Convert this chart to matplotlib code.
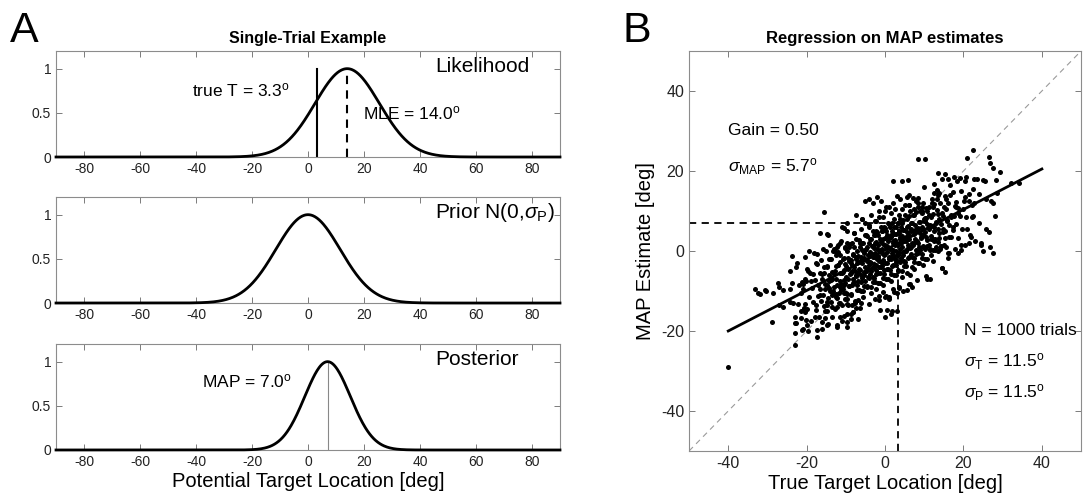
import numpy as np
import matplotlib
matplotlib.use("Agg")
import matplotlib.pyplot as plt

plt.rcParams['font.family'] = ['Liberation Sans', 'DejaVu Sans']
plt.rcParams['mathtext.fontset'] = 'custom'
plt.rcParams['mathtext.rm'] = 'Liberation Sans'
plt.rcParams['mathtext.it'] = 'Liberation Sans:italic'
plt.rcParams['mathtext.bf'] = 'Liberation Sans:bold'
plt.rcParams['axes.unicode_minus'] = False

# --- panel A: single trial ---
true_T = 3.3
mle = 14.0
map_est = 7.0
sigma_T = 11.5
sigma_P = 11.5
prior_mean = 0.0
sigma_post = 8.13
a_xticks = [-80, -60, -40, -20, 0, 20, 40, 60, 80]
a_yticks = [0, 0.5, 1]

# --- panel B: regression on MAP estimates (true location, MAP estimate) ---
core_trials = [
    (-22.8, -17.9), (-22.3, -13.3), (-21.5, -10.6), (-21.1, -7.8), (-22.6, -3.9),
    (-19.8, -18.4), (-20.6, -14.6), (-19.3, -11.6), (-20.9, -9.6), (-20.1, -7.5), (-19.6, -5.1), (-20.4, -1.4),
    (-18.8, -17.4), (-17.7, -14.7), (-18.3, -12.8), (-17.2, -11.3), (-18.6, -9.3), (-17.9, -7.3), (-18.4, -5.8),
    (-17.4, -3.2), (-18.1, -0.4),
    (-16.8, -16.4), (-15.4, -14.9), (-16.3, -12.6), (-15.9, -11.0), (-16.7, -9.6), (-15.2, -8.3), (-16.1, -6.9),
    (-16.6, -5.5), (-15.6, -4.0), (-16.4, -2.2), (-15.8, 0.6),
    (-14.5, -18.2), (-13.6, -13.9), (-14.8, -12.7), (-13.3, -10.8), (-14.2, -9.3), (-14.9, -8.6), (-13.8, -7.3),
    (-14.4, -5.9), (-13.5, -5.3), (-14.7, -3.8), (-14.1, -2.1), (-13.4, 0.1), (-14.6, 3.9),
    (-12.7, -14.4), (-11.4, -12.9), (-12.2, -11.7), (-11.8, -10.6), (-12.9, -9.0), (-11.3, -8.3), (-12.4, -6.9),
    (-11.6, -5.6), (-12.8, -4.9), (-12.1, -3.5), (-11.5, -2.8), (-12.5, -1.1), (-11.9, -0.2), (-12.3, 1.1), (-11.2, 2.6),
    (-10.6, -16.2), (-9.4, -13.4), (-10.2, -11.9), (-9.7, -10.7), (-10.8, -9.6), (-9.2, -8.8), (-10.4, -7.3),
    (-9.9, -6.6), (-10.7, -5.3), (-9.5, -4.6), (-10.1, -3.3), (-9.3, -2.5), (-10.5, -1.8), (-9.8, -0.1),
    (-10.3, 0.8), (-9.6, 2.1), (-10.9, 5.9),
    (-8.3, -15.2), (-7.6, -12.4), (-8.8, -10.9), (-7.2, -9.7), (-8.5, -8.6), (-7.9, -7.8), (-8.1, -7.0),
    (-7.4, -6.3), (-8.7, -5.6), (-7.7, -4.9), (-8.4, -3.6), (-7.1, -2.9), (-8.6, -2.3), (-7.5, -1.5),
    (-8.2, -0.8), (-7.8, 0.9), (-8.9, 1.8), (-7.3, 3.1), (-8.0, 4.6),
    (-6.4, -14.2), (-5.7, -11.4), (-6.2, -9.9), (-5.3, -8.7), (-6.8, -7.6), (-5.9, -6.8), (-6.1, -6.0),
    (-5.5, -5.3), (-6.6, -4.6), (-5.2, -3.9), (-6.3, -2.6), (-5.8, -1.9), (-6.9, -1.3), (-5.4, -0.5),
    (-6.0, 0.2), (-6.5, 1.0), (-5.6, 1.9), (-6.7, 2.8), (-5.1, 4.1), (-6.2, 5.6), (-5.8, 7.9),
    (-4.2, -13.2), (-3.5, -10.4), (-4.7, -8.9), (-3.1, -7.7), (-4.4, -6.6), (-3.8, -5.8), (-4.9, -5.0),
    (-3.3, -4.3), (-4.1, -3.6), (-3.6, -2.9), (-4.6, -2.3), (-3.2, -1.6), (-4.3, -0.9), (-3.9, -0.3),
    (-4.8, 0.5), (-3.4, 1.2), (-4.0, 2.0), (-3.7, 2.9), (-4.5, 3.8), (-3.0, 5.1), (-4.2, 6.6), (-3.6, 8.9),
    (-1.6, -12.2), (-2.4, -9.4), (-1.3, -7.9), (-2.7, -6.7), (-1.9, -5.6), (-2.2, -4.8), (-1.1, -4.0),
    (-2.8, -3.3), (-1.5, -2.6), (-2.1, -1.9), (-1.8, -1.3), (-2.5, -0.6), (-1.2, 0.1), (-2.9, 0.7),
    (-1.7, 1.5), (-2.3, 2.2), (-1.4, 3.0), (-2.6, 3.9), (-2.0, 4.8), (-1.0, 6.1), (-2.2, 7.6), (-1.6, 9.9),
    (0.3, -11.2), (-0.5, -8.4), (0.8, -6.9), (-0.2, -5.7), (0.6, -4.6), (-0.9, -3.8), (0.1, -3.0),
    (-0.6, -2.3), (0.9, -1.6), (-0.3, -0.9), (0.4, -0.3), (-0.8, 0.4), (0.2, 1.1), (-0.4, 1.7),
    (0.7, 2.5), (-0.1, 3.2), (0.5, 4.0), (-0.7, 4.9), (0.0, 5.8), (0.8, 7.1), (-0.5, 8.6), (0.3, 10.9),
    (2.4, -10.2), (1.6, -7.4), (2.8, -5.9), (1.3, -4.7), (2.1, -3.6), (2.7, -2.8), (1.5, -2.0),
    (2.3, -1.3), (1.8, -0.6), (2.9, 0.1), (1.2, 0.7), (2.5, 1.4), (1.9, 2.1), (2.6, 2.7),
    (1.4, 3.5), (2.2, 4.2), (1.7, 5.0), (2.8, 5.9), (1.1, 6.8), (2.4, 8.1), (1.6, 9.6), (2.0, 11.9),
    (3.6, -9.2), (4.4, -6.4), (3.2, -4.9), (4.8, -3.7), (3.9, -2.6), (4.1, -1.8), (3.4, -1.0),
    (4.6, -0.3), (3.7, 0.4), (4.3, 1.1), (3.1, 1.7), (4.9, 2.4), (3.8, 3.1), (4.2, 3.7),
    (3.5, 4.5), (4.7, 5.2), (4.0, 6.0), (3.3, 6.9), (4.5, 7.8), (3.6, 9.1), (4.2, 10.6), (3.9, 12.9),
    (6.3, -8.2), (5.6, -5.4), (6.8, -3.9), (5.2, -2.7), (6.1, -1.6), (6.6, -0.8), (5.4, 0.0),
    (6.4, 0.7), (5.8, 1.4), (6.9, 2.1), (5.3, 3.4), (6.2, 4.1), (5.7, 4.7), (6.5, 5.5),
    (5.9, 6.2), (6.7, 7.0), (5.5, 7.9), (6.0, 8.8), (6.4, 10.1), (5.1, 11.6), (6.2, 13.9),
    (8.2, -7.2), (7.5, -4.4), (8.7, -2.9), (7.3, -1.7), (8.4, -0.6), (7.9, 0.2), (8.6, 1.0),
    (7.1, 1.7), (8.1, 2.4), (7.7, 3.1), (8.9, 4.4), (7.4, 5.1), (8.3, 5.7), (7.6, 6.5),
    (8.8, 7.2), (7.2, 8.9), (8.0, 9.8), (8.5, 11.1), (7.8, 12.6),
    (10.4, -6.2), (9.6, -3.4), (10.8, -1.9), (9.3, -0.7), (10.1, 0.4), (9.8, 1.2), (10.6, 2.7),
    (9.2, 3.4), (10.3, 4.7), (9.5, 5.4), (10.7, 6.7), (9.9, 7.5), (10.2, 8.2), (9.4, 9.9),
    (10.5, 10.8), (9.7, 12.1), (10.0, 15.9),
    (12.3, -2.4), (11.6, -0.9), (12.7, 0.3), (11.2, 1.4), (12.1, 3.0), (11.8, 3.7), (12.5, 5.1),
    (11.4, 6.4), (12.9, 7.1), (11.7, 8.5), (12.2, 9.2), (11.3, 10.9), (12.6, 11.8), (11.9, 13.1), (12.4, 14.6),
    (14.6, -4.2), (13.4, 0.1), (14.2, 1.3), (13.8, 3.2), (14.9, 4.7), (13.5, 5.4), (14.3, 6.7),
    (13.7, 8.1), (14.7, 8.7), (13.2, 10.2), (14.1, 11.9), (13.6, 14.1), (14.4, 17.9),
    (16.2, -0.4), (15.5, 1.1), (16.7, 3.4), (15.3, 5.0), (16.4, 6.4), (15.8, 7.7), (16.9, 9.1),
    (15.6, 10.5), (16.1, 12.0), (15.4, 13.8), (16.5, 16.6),
    (17.8, 0.6), (18.5, 3.3), (17.3, 5.2), (18.2, 6.7), (17.6, 8.7), (18.7, 10.7), (18.0, 12.2),
    (17.4, 14.8), (18.4, 17.6),
    (20.3, 1.6), (19.5, 5.4), (20.7, 8.4), (19.8, 10.4), (20.2, 12.5), (19.4, 14.9), (20.6, 18.6),
    (21.6, 4.1), (22.4, 8.7), (22.1, 11.4), (21.3, 14.2), (22.7, 18.1),
]

mid_trials = [
    (-17.7, -13.6), (-16.6, -11.1), (-17.2, -8.5), (-16.2, -5.7), (-17.5, -3.1),
    (-15.7, -13.7), (-14.6, -11.7), (-15.2, -9.4), (-14.2, -7.5), (-15.5, -5.5), (-14.9, -3.9), (-14.4, -2.1),
    (-13.7, -12.7), (-12.6, -10.7), (-13.2, -9.9), (-12.2, -8.4), (-13.5, -7.1), (-12.9, -5.8), (-12.4, -3.7),
    (-13.9, -2.0), (-12.7, 0.0),
    (-11.7, -13.0), (-10.6, -10.6), (-11.2, -9.7), (-10.2, -8.1), (-11.5, -7.4), (-10.9, -5.5), (-10.4, -4.8),
    (-11.9, -3.5), (-10.7, -1.9), (-11.4, -1.0), (-10.1, 1.0),
    (-9.7, -12.0), (-8.6, -10.7), (-9.2, -8.7), (-8.2, -7.9), (-9.5, -7.1), (-8.9, -5.7), (-8.4, -5.1),
    (-9.9, -3.8), (-8.7, -3.1), (-9.4, -1.7), (-8.1, -0.9), (-9.1, 0.9), (-8.5, 2.0),
    (-7.7, -13.1), (-6.6, -9.7), (-7.2, -8.6), (-6.2, -7.7), (-7.5, -6.1), (-6.9, -5.4), (-6.4, -4.7),
    (-7.9, -4.1), (-6.7, -2.8), (-7.4, -2.1), (-6.1, -1.5), (-7.1, 0.1), (-6.5, 1.9), (-7.8, 4.5),
    (-5.7, -10.0), (-4.6, -8.7), (-5.2, -7.6), (-4.2, -6.7), (-5.5, -5.9), (-4.9, -5.1), (-4.4, -4.4),
    (-5.9, -3.1), (-4.7, -2.5), (-5.4, -1.8), (-4.1, -1.1), (-5.1, 0.3), (-4.5, 1.1), (-5.8, 2.0), (-4.8, 4.0),
    (-3.7, -9.0), (-2.6, -7.7), (-3.2, -6.6), (-2.2, -5.7), (-3.5, -4.9), (-2.9, -4.1), (-2.4, -3.4),
    (-3.9, -2.7), (-2.7, -1.5), (-3.4, -0.8), (-2.1, 0.5), (-3.1, 1.3), (-2.5, 2.1), (-3.8, 3.0),
    (-2.8, 3.9), (-2.3, 5.0),
    (-1.7, -8.0), (-0.6, -6.7), (-1.2, -5.6), (-0.2, -4.7), (-1.5, -3.9), (-0.9, -3.1), (-0.4, -2.4),
    (-1.9, -1.7), (-0.7, -0.5), (-1.4, 0.2), (-0.1, 1.5), (-1.1, 2.3), (-0.5, 3.1), (-1.8, 4.0),
    (-0.8, 4.9), (-0.3, 6.0),
    (0.3, -7.0), (1.4, -5.7), (0.8, -4.6), (1.8, -3.7), (0.5, -2.9), (1.1, -2.1), (1.6, -1.4),
    (0.1, -0.7), (1.3, 0.5), (0.6, 1.2), (1.9, 2.5), (0.9, 3.3), (1.5, 4.1), (0.2, 5.0),
    (1.2, 5.9), (1.7, 7.0),
    (2.3, -6.0), (3.4, -4.7), (2.8, -3.6), (3.8, -2.7), (2.5, -1.9), (3.1, -1.1), (3.6, -0.4),
    (2.1, 0.3), (3.3, 1.5), (2.6, 2.2), (3.9, 3.5), (2.9, 4.3), (3.5, 5.1), (2.2, 6.0),
    (3.2, 6.9), (3.7, 8.0),
    (4.3, -5.0), (5.4, -3.7), (4.8, -2.6), (5.8, -1.7), (4.5, -0.9), (5.1, -0.1), (5.6, 0.6),
    (4.1, 1.9), (5.3, 2.5), (4.6, 3.2), (5.9, 3.9), (4.9, 5.3), (5.5, 6.1), (4.2, 7.0), (5.2, 9.0),
    (6.3, -6.1), (7.4, -2.7), (6.8, -1.6), (7.8, -0.7), (6.5, 0.9), (7.1, 1.6), (7.6, 2.3),
    (6.1, 2.9), (7.3, 4.2), (6.6, 4.9), (7.9, 5.5), (6.9, 7.1), (7.5, 8.9), (6.2, 11.5),
    (8.3, -3.0), (9.4, -1.7), (8.8, 0.3), (9.8, 1.1), (8.5, 1.9), (9.1, 3.3), (9.6, 3.9),
    (8.1, 5.2), (9.3, 5.9), (8.6, 7.3), (9.9, 8.1), (8.9, 9.9), (9.5, 11.0),
    (10.3, -2.0), (11.4, 0.4), (10.8, 1.3), (11.8, 2.9), (10.5, 3.6), (11.1, 5.5), (11.6, 6.2),
    (10.1, 7.5), (11.3, 9.1), (10.6, 10.0), (11.9, 12.0),
    (12.3, 0.3), (13.4, 2.3), (12.8, 3.1), (13.8, 4.6), (12.5, 5.9), (13.1, 7.2), (13.6, 9.3),
    (12.1, 11.0), (13.3, 13.0),
    (14.3, 1.3), (15.4, 3.3), (14.8, 5.6), (15.8, 7.5), (14.5, 9.5), (15.1, 11.1), (15.6, 12.9),
    (16.3, 3.4), (17.4, 5.9), (16.8, 8.5), (17.8, 11.3), (16.5, 13.9),
]

edge_trials = [
    (-40.0, -29.0), (-28.8, -17.7), (-33.2, -9.5), (-32.4, -10.5), (-31.9, -10.8), (-30.4, -10.0),
    (-28.5, -10.4), (-27.2, -8.0), (-27.0, -13.5), (-23.8, -1.2), (-24.2, -5.0), (-24.2, -12.7),
    (-23.7, -8.0), (-23.0, -16.4), (-23.0, -17.9), (-23.0, -20.5), (-21.3, -19.8), (-23.0, -23.5),
    (-20.8, -14.3), (-20.3, -15.2), (-20.1, -17.2), (-21.0, -19.5), (-17.9, -16.4), (-17.4, -19.8),
    (-17.4, -21.4), (-14.9, -18.5), (-14.9, -13.5), (-14.9, -15.0), (-12.3, -18.5), (-12.3, -19.0),
    (-9.8, -17.7), (-9.8, -19.0), (-9.8, -15.8), (-8.1, -15.2), (-7.0, -17.0), (-1.3, -14.8),
    (0.0, -16.4), (1.7, -15.0), (0.9, -11.6), (5.5, -9.8), (6.8, -8.9), (10.6, -7.0), (11.5, -7.0),
    (14.5, -4.3), (15.3, -5.2), (18.7, -0.6), (19.3, 0.3), (19.3, 1.4), (24.9, 0.0), (24.5, 2.0),
    (16.0, -0.5), (16.0, -1.8), (14.0, 0.6),
    (8.5, 23.0), (22.5, 25.2), (21.0, 23.3), (26.4, 23.6), (26.8, 22.0), (27.6, 20.7), (29.4, 19.8),
    (32.0, 17.0), (34.2, 17.0), (28.3, 17.7), (27.6, 12.0), (28.5, 14.5), (28.0, 8.8), (25.0, 17.7),
    (13.5, 19.5), (2.0, 17.5), (4.2, 17.5), (16.0, 18.0), (17.5, 18.5), (19.0, 18.3), (20.5, 17.5),
    (-15.5, 9.8), (-2.1, 13.6), (-4.0, 13.0), (-5.0, 12.6), (3.0, 13.8), (5.5, 13.5), (7.0, 13.2),
    (8.5, 13.3), (-9.8, 7.0), (-10.5, 5.8), (-9.8, 5.0), (-14.0, 1.5), (-16.6, 4.5), (-14.9, 4.2),
    (-19.4, 0.0), (-17.4, -0.7), (10.2, 23.0), (5.9, 17.7), (15.3, 19.2), (23.5, 18.0), (25.5, 17.5),
    (12.5, 16.8), (13.2, 15.3), (13.8, 14.5), (22.5, 15.5), (24.0, 14.2), (25.8, 13.0), (20.5, 13.5),
    (21.5, 12.5), (22.8, 12.0), (18.2, 11.0), (18.5, 9.5), (19.0, 8.8), (22.3, 8.5), (24.0, 7.0),
    (25.7, 5.5), (26.4, 4.8), (21.0, 5.5), (22.0, 3.5), (21.5, 2.0), (24.5, 1.5), (26.8, 1.0),
    (27.5, -0.5), (23.0, 2.5), (12.5, 2.5), (13.0, 1.0), (15.0, 1.5), (11.5, 0.2), (27.0, 12.5),
    (6.0, 11.5), (7.5, 10.5), (8.5, 12.0), (9.5, 9.5), (10.5, 8.3), (-3.0, 12.0), (-1.0, 12.5),
    (1.0, 11.0), (0.0, 10.0), (2.5, 10.5), (-6.0, 8.0), (-5.0, 7.0), (-4.0, 6.0), (-2.5, 7.5),
    (-1.5, 8.5), (-7.5, 9.0), (-12.0, 1.5), (-13.0, 0.5), (-15.0, 0.0), (-11.5, 2.0),
    (-22.5, -3.0), (-20.0, -4.5), (-19.2, -5.5), (-19.0, -7.5), (-21.0, -8.2), (-22.0, -8.5),
    (-20.5, -7.0), (-30.5, -9.7), (-26.0, -9.8), (-24.2, -9.5), (-27.0, -8.9), (-23.5, -13.0),
    (-26.0, -13.9), (-21.5, -15.0), (-21.5, -16.8), (-20.0, -14.5), (-20.5, -13.2), (-19.6, -20.0),
    (-16.0, -17.7), (-16.0, -19.5), (-15.2, -16.8), (-13.5, -16.5), (-11.5, -16.5), (-11.0, -17.5),
    (-8.7, -15.8), (-8.7, -17.0), (-12.3, -14.0), (-11.0, -13.5), (-9.8, -13.2), (-8.5, -13.6),
    (-7.5, -14.3), (-6.2, -13.0), (-7.0, -12.3), (0.5, -14.8), (1.5, -15.8), (3.0, -15.0),
    (-2.5, -12.0), (-1.5, -11.2), (0.0, -11.5), (1.0, -12.0), (-0.5, -10.3), (2.0, -9.6),
    (3.0, -10.4), (4.5, -10.0), (6.0, -8.2), (3.5, -9.0), (-13.5, -11.0), (-12.5, -11.5),
    (-14.0, -10.0), (-11.5, -9.0), (-10.5, -8.5), (-10.0, -10.5),
]

fit_x = [-40, 40]
fit_y = [-20.0, 20.5]
b_ticks = [-40, -20, 0, 20, 40]

SPINE = '#8c8c8c'


def style_axes(ax, labelsize):
    for s in ax.spines.values():
        s.set_color(SPINE)
        s.set_linewidth(0.8)
    ax.tick_params(direction='in', top=True, right=True, length=4, width=0.6,
                   color='#666666', labelsize=labelsize, labelcolor='#222222')


def gauss(x, mu, sd):
    return np.exp(-(x - mu) ** 2 / (2 * sd ** 2))


fig = plt.figure(figsize=(10.92, 4.97), dpi=100)

# Panel A
bottoms = [0.6841, 0.3903, 0.0946]
axes_a = [fig.add_axes([0.0513, b, 0.4615, 0.2133]) for b in bottoms]
xs = np.linspace(-90, 90, 721)
curves = [gauss(xs, mle, sigma_T), gauss(xs, prior_mean, sigma_P), gauss(xs, map_est, sigma_post)]
names = ['Likelihood', r'Prior N(0,$\it{\sigma}_{\rm P}$)', 'Posterior']

for ax, ys, name in zip(axes_a, curves, names):
    ax.plot(xs, ys, color='k', lw=2, zorder=3, clip_on=False)
    ax.set_xlim(-90, 90)
    ax.set_ylim(0, 1.2)
    ax.set_xticks(a_xticks)
    ax.set_yticks(a_yticks)
    ax.set_yticklabels(['0', '0.5', '1'])
    style_axes(ax, 10)
    ax.text(45.5, 1.02, name, fontsize=15, ha='left', va='center')

top = axes_a[0]
top.plot([true_T, true_T], [0, 1], color='k', lw=1.5)
top.plot([mle, mle], [0, 1], color='k', lw=1.5, ls=(0, (4, 3)))
top.text(-41.5, 0.76, r'true T = 3.3$^{\rm o}$', fontsize=12.5, va='center')
top.text(19.6, 0.5, r'MLE = 14.0$^{\rm o}$', fontsize=12.5, va='center')
top.set_title('Single-Trial Example', fontweight='bold', fontsize=11.5, pad=6)

bot = axes_a[2]
bot.plot([map_est, map_est], [0, 1], color='#888888', lw=0.8, zorder=2)
bot.text(-38, 0.78, r'MAP = 7.0$^{\rm o}$', fontsize=12.5, va='center')
bot.set_xlabel('Potential Target Location [deg]', fontsize=14.5, labelpad=2)

# Panel B
axb = fig.add_axes([0.631, 0.0926, 0.359, 0.8048])
pts = np.array(core_trials + mid_trials + edge_trials)
axb.plot([-50, 50], [-50, 50], color='#9a9a9a', lw=0.8, ls=(0, (5, 4)), zorder=1)
axb.plot([-50, true_T], [map_est, map_est], color='k', lw=1.3, ls=(0, (4, 3)), zorder=2)
axb.plot([true_T, true_T], [-50, map_est], color='k', lw=1.3, ls=(0, (4, 3)), zorder=2)
axb.scatter(pts[:, 0], pts[:, 1], s=13, c='k', linewidths=0, zorder=3)
axb.plot(fit_x, fit_y, color='k', lw=2, zorder=4)
axb.set_xlim(-50, 50)
axb.set_ylim(-50, 50)
axb.set_xticks(b_ticks)
axb.set_yticks(b_ticks)
style_axes(axb, 11.5)
axb.set_title('Regression on MAP estimates', fontweight='bold', fontsize=12, pad=6)
axb.set_xlabel('True Target Location [deg]', fontsize=14.5, labelpad=2)
axb.set_ylabel('MAP Estimate [deg]', fontsize=14.5, labelpad=4)

axb.text(-40, 30, 'Gain = 0.50', fontsize=12.5, va='center')
axb.text(-40, 21, r'$\it{\sigma}_{\rm MAP}$ = 5.7$^{\rm o}$', fontsize=12.5, va='center')
axb.text(20.2, -20, 'N = 1000 trials', fontsize=12.5, va='center')
axb.text(20.2, -27.7, r'$\it{\sigma}_{\rm T}$ = 11.5$^{\rm o}$', fontsize=12.5, va='center')
axb.text(20.2, -35.5, r'$\it{\sigma}_{\rm P}$ = 11.5$^{\rm o}$', fontsize=12.5, va='center')

fig.text(10 / 1092, 1 - 42 / 497, 'A', fontsize=31, va='baseline')
fig.text(622 / 1092, 1 - 42 / 497, 'B', fontsize=31, va='baseline')

fig.savefig('out.png', dpi=100)
